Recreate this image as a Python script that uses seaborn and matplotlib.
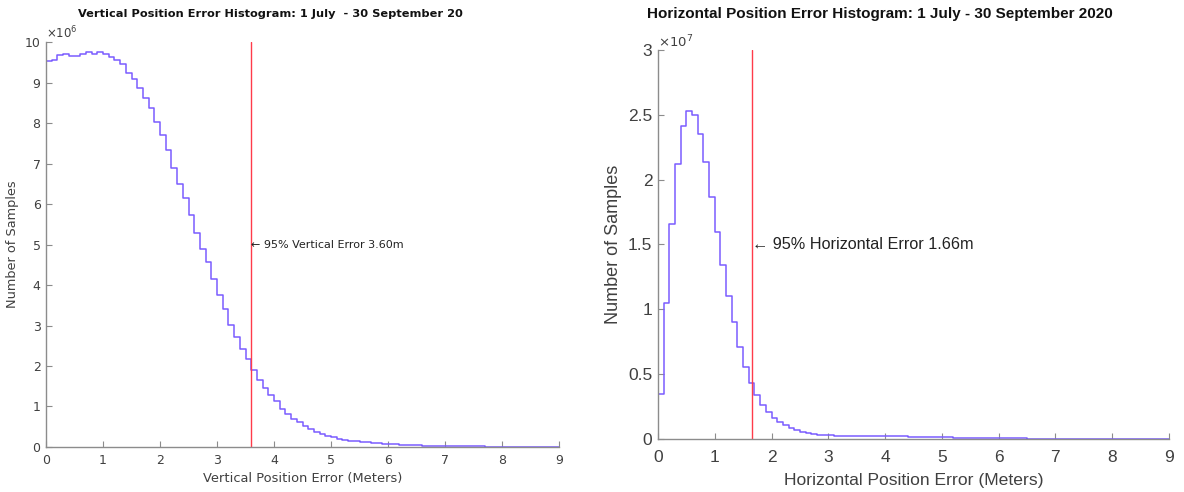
import numpy as np
import pandas as pd
import matplotlib
matplotlib.use("Agg")
import matplotlib.pyplot as plt
from matplotlib.ticker import FuncFormatter, MultipleLocator
import seaborn as sns

# bin edges: 0.1 m bins from 0 to 9 m
BIN_WIDTH = 0.1
N_BINS = 90

# vertical error counts per bin, in millions of samples
VERT_COUNTS_M = [
    9.54, 9.55, 9.67, 9.71, 9.66, 9.65, 9.70, 9.75, 9.71, 9.76,
    9.71, 9.63, 9.56, 9.47, 9.24, 9.08, 8.87, 8.63, 8.37, 8.03,
    7.70, 7.33, 6.89, 6.49, 6.16, 5.73, 5.29, 4.90, 4.56, 4.14,
    3.75, 3.42, 3.01, 2.71, 2.43, 2.17, 1.90, 1.65, 1.45, 1.28,
    1.13, 0.95, 0.81, 0.70, 0.61, 0.52, 0.44, 0.36, 0.31, 0.27,
    0.24, 0.20, 0.18, 0.16, 0.145, 0.13, 0.115, 0.10, 0.09, 0.08,
    0.07, 0.062, 0.055, 0.05, 0.045, 0.04, 0.035, 0.031, 0.028, 0.025,
    0.022, 0.02, 0.018, 0.016, 0.014, 0.013, 0.012, 0.011, 0.010, 0.009,
    0.008, 0.008, 0.007, 0.007, 0.006, 0.006, 0.005, 0.005, 0.005, 0.004,
]

# horizontal error counts per bin, in units of 1e7 samples
HORIZ_COUNTS_E7 = [
    0.35, 1.05, 1.66, 2.12, 2.41, 2.53, 2.50, 2.35, 2.14, 1.87,
    1.60, 1.34, 1.10, 0.90, 0.71, 0.555, 0.435, 0.34, 0.265, 0.21,
    0.16, 0.128, 0.107, 0.087, 0.069, 0.056, 0.046, 0.038, 0.033, 0.030,
    0.028, 0.027, 0.026, 0.026, 0.025, 0.025, 0.025, 0.024, 0.024, 0.023,
    0.023, 0.022, 0.021, 0.020, 0.019, 0.018, 0.017, 0.016, 0.015, 0.014,
    0.013, 0.012, 0.011, 0.010, 0.009, 0.008, 0.007, 0.007, 0.006, 0.006,
    0.005, 0.005, 0.004, 0.004, 0.004, 0.003, 0.003, 0.003, 0.002, 0.002,
    0.002, 0.002, 0.002, 0.0015, 0.0015, 0.0015, 0.001, 0.001, 0.001, 0.001,
    0.001, 0.001, 0.0008, 0.0008, 0.0008, 0.0006, 0.0006, 0.0006, 0.0005, 0.0005,
]

VERT_95 = 3.60
HORIZ_95 = 1.66

LINE_COLOR = "#7a5cff"
RED = "#ff3b4a"
AXIS_GRAY = "#8c8c8c"
TEXT_GRAY = "#404040"

sns.set_theme(style="ticks")


def style_axes(ax, font, size):
    sns.despine(ax=ax)
    for s in ("left", "bottom"):
        ax.spines[s].set_color(AXIS_GRAY)
        ax.spines[s].set_linewidth(1.0)
    ax.tick_params(direction="in", length=4, width=0.8, color=AXIS_GRAY,
                   labelcolor=TEXT_GRAY, labelsize=size, pad=4)
    for lab in ax.get_xticklabels() + ax.get_yticklabels():
        lab.set_family(font)


def draw_hist(ax, counts, scale):
    edges = np.arange(N_BINS + 1) * BIN_WIDTH
    df = pd.DataFrame({"center": edges[:-1] + BIN_WIDTH / 2,
                       "count": np.array(counts) * scale})
    # bins as a plain list: seaborn compares bins to "auto" when weights are used
    sns.histplot(data=df, x="center", weights="count", bins=edges.tolist(),
                 element="step", fill=False, color=LINE_COLOR, linewidth=1.1,
                 ax=ax)


fig = plt.figure(figsize=(11.84, 4.92), dpi=100)

# ---- left: vertical error ----
ax1 = fig.add_axes([0.0389, 0.0915, 0.4333, 0.823])
draw_hist(ax1, VERT_COUNTS_M, 1e6)
ax1.axvline(VERT_95, color=RED, lw=1.0)
ax1.set_xlim(0, 9)
ax1.set_ylim(0, 10e6)
ax1.xaxis.set_major_locator(MultipleLocator(1))
ax1.yaxis.set_major_locator(MultipleLocator(1e6))
ax1.yaxis.set_major_formatter(FuncFormatter(lambda v, p: f"{v / 1e6:g}"))
style_axes(ax1, "DejaVu Sans", 9)
ax1.tick_params(axis="x", pad=5)
ax1.set_xlabel("Vertical Position Error (Meters)", fontsize=9.4, color=TEXT_GRAY,
               family="DejaVu Sans", labelpad=4)
ax1.set_ylabel("Number of Samples", fontsize=9.3, color=TEXT_GRAY,
               family="DejaVu Sans", labelpad=4)
ax1.text(0.0, 1.003, r"$\times10^{6}$", transform=ax1.transAxes, fontsize=8.5,
         color=TEXT_GRAY, ha="left", va="bottom")
ax1.text(VERT_95, 5e6, "\u2190 95% Vertical Error 3.60m", fontsize=8,
         color="#222222", ha="left", va="center", family=["DejaVu Sans"])
fig.text(270 / 1184, 1 - 14 / 492,
         "Vertical Position Error Histogram: 1 July  - 30 September 20",
         fontsize=8.2, fontweight="bold", family="DejaVu Sans", color="#111111",
         ha="center", va="center")

# ---- right: horizontal error ----
ax2 = fig.add_axes([0.5557, 0.1077, 0.4316, 0.7907])
draw_hist(ax2, HORIZ_COUNTS_E7, 1e7)
ax2.axvline(HORIZ_95, color=RED, lw=1.0)
ax2.set_xlim(0, 9)
ax2.set_ylim(0, 3e7)
ax2.xaxis.set_major_locator(MultipleLocator(1))
ax2.yaxis.set_major_locator(MultipleLocator(0.5e7))
ax2.yaxis.set_major_formatter(FuncFormatter(lambda v, p: f"{v / 1e7:g}"))
style_axes(ax2, "Liberation Sans", 12.5)
ax2.tick_params(axis="x", pad=8)
ax2.set_xlabel("Horizontal Position Error (Meters)", fontsize=12.6,
               color=TEXT_GRAY, family="Liberation Sans", labelpad=6)
ax2.set_ylabel("Number of Samples", fontsize=13, color=TEXT_GRAY,
               family="Liberation Sans", labelpad=4)
ax2.text(0.0, 1.0, r"$\times10^{7}$", transform=ax2.transAxes, fontsize=9.5,
         color=TEXT_GRAY, ha="left", va="bottom", family="Liberation Sans")
ax2.text(HORIZ_95, 1.5e7, "\u2190 95% Horizontal Error 1.66m", fontsize=11.7,
         color="#222222", ha="left", va="center",
         family=["Liberation Sans", "DejaVu Sans"])
fig.text(880 / 1184, 1 - 14 / 492,
         "Horizontal Position Error Histogram: 1 July - 30 September 2020",
         fontsize=11, fontweight="bold", family="Liberation Sans",
         color="#111111", ha="center", va="center")

fig.savefig("out.png", dpi=100, facecolor="white")
